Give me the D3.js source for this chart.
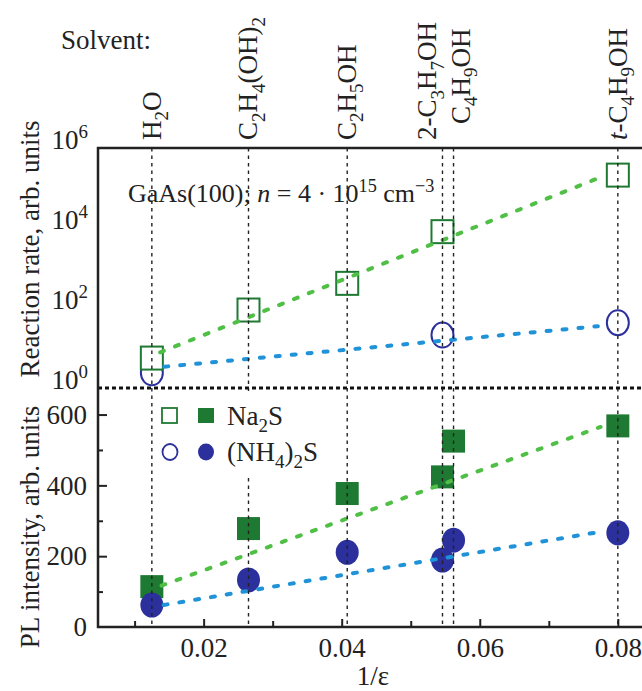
<!DOCTYPE html>
<html>
<head>
<meta charset="utf-8">
<script src="https://cdn.jsdelivr.net/npm/d3@7"></script>
<style>
  body { margin: 0; background: #fff; }
  svg text { font-family: "Liberation Serif", "Times New Roman", Times, "DejaVu Serif", serif !important; fill: #222; }
</style>
</head>
<body>
<svg width="642" height="691" font-family="Liberation Serif"></svg>
<script>
// solvents and their 1/epsilon
var solventParts = [
    [["H"], ["2", "sub"], ["O"]],
    [["C"], ["2", "sub"], ["H"], ["4", "sub"], ["(OH)"], ["2", "sub"]],
    [["C"], ["2", "sub"], ["H"], ["5", "sub"], ["OH"]],
    [["2-C"], ["3", "sub"], ["H"], ["7", "sub"], ["OH"]],
    [["C"], ["4", "sub"], ["H"], ["9", "sub"], ["OH"]],
    [["t", "it"], ["-C"], ["4", "sub"], ["H"], ["9", "sub"], ["OH"]]
];
var invEps = [0.0125, 0.0265, 0.0408, 0.0546, 0.0562, 0.0800];

// reaction rate (log), open markers
var rateNa2SX = [0.0125, 0.0265, 0.0408, 0.0546, 0.0800];
var rateNa2S = [5.6, 89, 413, 8100, 2.1e5];
var rateNH4X = [0.0125, 0.0546, 0.0800];
var rateNH4 = [2.4, 21, 43];
var rateFitNa2SX = [0.0137, 0.0771], rateFitNa2S = [7.8, 1.74e5];
var rateFitNH4X = [0.0143, 0.0771], rateFitNH4 = [3.4, 35];

// PL intensity, filled markers
var plNa2S = [114, 278, 377, 424, 525, 568];
var plNH4 = [62, 133, 211, 189, 245, 266];
var plFitNa2SX = [0.0139, 0.0775], plFitNa2S = [117, 565];
var plFitNH4X = [0.0142, 0.0775], plFitNH4 = [62, 269];

var xTicks = [0.01, 0.02, 0.03, 0.04, 0.05, 0.06, 0.07, 0.08];
var xLabels = [0.02, 0.04, 0.06, 0.08];
var rateTicks = [1, 1e2, 1e4, 1e6];
var rateExp = ["0", "2", "4", "6"];
var plTicks = [0, 100, 200, 300, 400, 500, 600];

var svg = d3.select("svg");
var green = "#1e7a32", greenFit = "#4fbf45", navy = "#2b309c", blueFit = "#1f92d8";
var fs = 27;

var x = d3.scaleLinear().domain([0.0047, 0.0835]).range([98, 642]);
var yTop = d3.scaleLog().domain([1, 1e6]).range([388, 148]);
var yBot = d3.scaleLinear().domain([0, 675]).range([627, 388]);

// text with sub / superscripts
function rich(t, parts, size) {
    var shift = 0;
    parts.forEach(function (p) {
        var s = t.append("tspan").text(p[0]);
        var target = 0, fsz = size;
        if (p[1] == "sub") { target = size * 0.26; fsz = size * 0.7; }
        if (p[1] == "sup") { target = -size * 0.4; fsz = size * 0.7; }
        if (p[1] == "it") s.style("font-style", "italic");
        s.style("font-size", fsz + "px").attr("dy", target - shift);
        shift = target;
    });
}

var marks = svg.append("g");

// upper panel markers
marks.selectAll(".oc").data(rateNH4).enter().append("ellipse")
    .attr("cx", (d, i) => x(rateNH4X[i])).attr("cy", d => yTop(d))
    .attr("rx", 11).attr("ry", 12.5)
    .attr("fill", "#fff").attr("stroke", navy).attr("stroke-width", 2);
marks.selectAll(".os").data(rateNa2S).enter().append("rect")
    .attr("x", (d, i) => x(rateNa2SX[i]) - 11).attr("y", d => yTop(d) - 11.5)
    .attr("width", 22).attr("height", 23)
    .attr("fill", "#fff").attr("stroke", green).attr("stroke-width", 2);

// lower panel markers
marks.selectAll(".fs").data(plNa2S).enter().append("rect")
    .attr("x", (d, i) => x(invEps[i]) - 11.5).attr("y", d => yBot(d) - 11.5)
    .attr("width", 23).attr("height", 23).attr("fill", green);
marks.selectAll(".fc").data(plNH4).enter().append("ellipse")
    .attr("cx", (d, i) => x(invEps[i])).attr("cy", d => yBot(d))
    .attr("rx", 11.5).attr("ry", 12.5).attr("fill", navy);

// fit lines
function fit(xs, ys, y, color) {
    svg.append("path")
        .attr("d", d3.line().x((d, i) => x(d)).y((d, i) => y(ys[i]))(xs))
        .attr("fill", "none").attr("stroke", color).attr("stroke-width", 4)
        .attr("stroke-linecap", "round").attr("stroke-dasharray", "4,12");
}
fit(rateFitNa2SX, rateFitNa2S, yTop, greenFit);
fit(rateFitNH4X, rateFitNH4, yTop, blueFit);
fit(plFitNa2SX, plFitNa2S, yBot, greenFit);
fit(plFitNH4X, plFitNH4, yBot, blueFit);

// solvent guide lines
svg.selectAll(".guide").data(invEps).enter().append("line")
    .attr("x1", d => x(d)).attr("x2", d => x(d))
    .attr("y1", yTop(1e6)).attr("y2", yBot(0))
    .attr("stroke", "#222").attr("stroke-width", 1.4).attr("stroke-dasharray", "3.5,4");

// panel divider
svg.append("line")
    .attr("x1", x.range()[0]).attr("x2", x.range()[1])
    .attr("y1", yTop(1)).attr("y2", yTop(1))
    .attr("stroke", "#111").attr("stroke-width", 3).attr("stroke-dasharray", "4,3");

// frame
svg.append("path")
    .attr("d", "M" + x.range()[1] + "," + yTop(1e6) + "H" + x.range()[0] + "V" + yBot(0) + "H" + x.range()[1])
    .attr("fill", "none").attr("stroke", "#222").attr("stroke-width", 2.5);

// x axis
var xAxis = svg.append("g")
    .attr("transform", "translate(0," + yBot(0) + ")")
    .call(d3.axisBottom(x).tickValues(xTicks).tickSize(-8).tickPadding(11)
        .tickFormat(d => xLabels.indexOf(d) >= 0 ? d3.format(".2f")(d) : ""));
xAxis.attr("font-family", null);
xAxis.select(".domain").remove();
xAxis.selectAll("line").attr("stroke", "#222").attr("stroke-width", 2)
    .attr("y2", d => xLabels.indexOf(d) >= 0 ? -8 : -6);
xAxis.selectAll("text").style("font-size", fs + "px").attr("fill", "#222");

// lower y axis
var plAxis = svg.append("g")
    .attr("transform", "translate(" + x.range()[0] + ",0)")
    .call(d3.axisLeft(yBot).tickValues(plTicks).tickSize(-9).tickPadding(11)
        .tickFormat(d => d % 200 == 0 ? d : ""));
plAxis.attr("font-family", null);
plAxis.select(".domain").remove();
plAxis.selectAll("line").attr("stroke", "#222").attr("stroke-width", 2)
    .attr("x2", d => d == 0 ? 0 : (d % 200 == 0 ? 9 : 5));
plAxis.selectAll("text").style("font-size", fs + "px").attr("fill", "#222").attr("dy", "0.32em");

// upper y axis (log, powers of ten)
var rateAxis = svg.append("g")
    .attr("transform", "translate(" + x.range()[0] + ",0)")
    .call(d3.axisLeft(yTop).tickValues(rateTicks).tickSize(0).tickPadding(10).tickFormat(""));
rateAxis.attr("font-family", null);
rateAxis.select(".domain").remove();
rateAxis.selectAll("text").each(function (d, i) {
    var t = d3.select(this).attr("dy", "0.3em").style("font-size", fs + "px").attr("fill", "#222");
    rich(t, [["10"], [rateExp[i], "sup"]], fs);
});

// axis titles
svg.append("text").attr("text-anchor", "middle")
    .attr("transform", "translate(39,249) rotate(-90)")
    .style("font-size", fs + "px").text("Reaction rate, arb. units");
svg.append("text").attr("text-anchor", "middle")
    .attr("transform", "translate(39,527) rotate(-90)")
    .style("font-size", fs + "px").text("PL intensity, arb. units");
svg.append("text").attr("text-anchor", "middle")
    .attr("x", 373).attr("y", 685)
    .style("font-size", fs + "px").text("1/\u03b5");

// solvent labels on top
svg.append("text").attr("x", 61).attr("y", 49).style("font-size", fs + "px").text("Solvent:");
var labelShift = [0, 0, 0, -15, 7, 0];
var labelBase = [140, 140, 140, 140, 124, 140];
solventParts.forEach(function (parts, i) {
    var lx = x(invEps[i]) + labelShift[i] + 9, ly = labelBase[i];
    var t = svg.append("text")
        .attr("transform", "translate(" + lx + "," + ly + ") rotate(-90)")
        .style("font-size", fs + "px");
    rich(t, parts, fs);
});

// sample annotation
var note = svg.append("text").attr("x", 128).attr("y", 202).style("font-size", "26px");
rich(note, [["GaAs(100); "], ["n", "it"], [" = 4 \u00b7 10"], ["15", "sup"], [" cm"], ["\u22123", "sup"]], 26);

// legend
var lg = svg.append("g");
lg.append("rect").attr("x", 222).attr("y", 391).attr("width", 108).attr("height", 85).attr("fill", "#fff");
lg.append("rect").attr("x", 162).attr("y", 408).attr("width", 15).attr("height", 15)
    .attr("fill", "#fff").attr("stroke", green).attr("stroke-width", 1.8);
lg.append("rect").attr("x", 198).attr("y", 408).attr("width", 16).attr("height", 15).attr("fill", green);
lg.append("ellipse").attr("cx", 170).attr("cy", 452).attr("rx", 7.5).attr("ry", 8)
    .attr("fill", "#fff").attr("stroke", navy).attr("stroke-width", 1.8);
lg.append("ellipse").attr("cx", 206).attr("cy", 452).attr("rx", 8).attr("ry", 8.5).attr("fill", navy);
rich(lg.append("text").attr("x", 227).attr("y", 425).style("font-size", fs + "px"),
    [["Na"], ["2", "sub"], ["S"]], fs);
rich(lg.append("text").attr("x", 227).attr("y", 461).style("font-size", fs + "px"),
    [["(NH"], ["4", "sub"], [")"], ["2", "sub"], ["S"]], fs);
</script>
</body>
</html>
